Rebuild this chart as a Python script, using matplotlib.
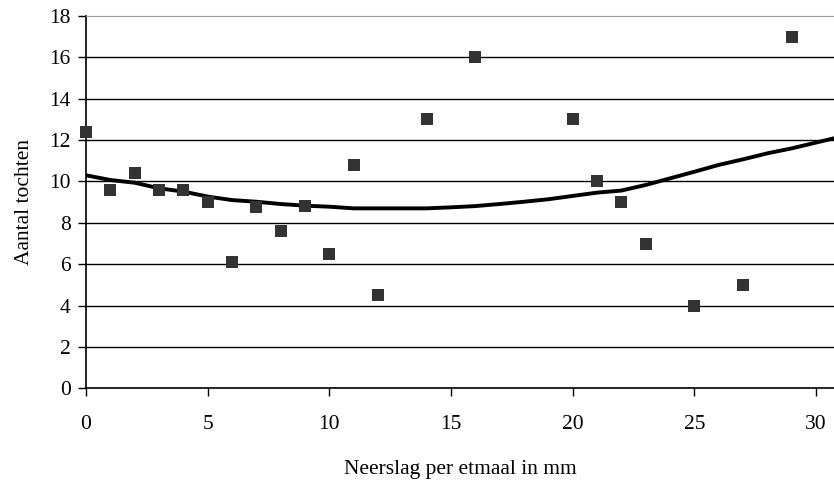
import matplotlib
matplotlib.use("Agg")
import matplotlib.pyplot as plt

# measured points
neerslag = [0, 1, 2, 3, 4, 5, 6, 7, 8, 9, 10, 11, 12, 14, 16, 20, 21, 22, 23, 25, 27, 29, 31]
tochten = [12.4, 9.6, 10.4, 9.6, 9.6, 9.0, 6.1, 8.75, 7.6, 8.8, 6.5, 10.8, 4.5,
           13, 16, 13, 10, 9, 7, 4, 5, 17, 14]

# trend line
trend_x = [0, 1, 2, 3, 4, 5, 6, 7, 8, 9, 10, 11, 12, 13, 14, 15, 16, 17, 18, 19, 20,
           21, 22, 23, 24, 25, 26, 27, 28, 29, 30, 30.75]
trend_y = [10.3, 10.07, 9.94, 9.67, 9.51, 9.27, 9.1, 9.02, 8.91, 8.83, 8.78, 8.7, 8.7,
           8.7, 8.7, 8.75, 8.81, 8.91, 9.02, 9.14, 9.3, 9.46, 9.56, 9.83, 10.15, 10.47,
           10.8, 11.07, 11.36, 11.6, 11.88, 12.09]

plt.rcParams['font.family'] = ['Liberation Serif', 'DejaVu Serif']

fig = plt.figure(figsize=(8.34, 4.8), dpi=100)
ax = fig.add_axes([86 / 834, 1 - 388.3 / 480, 1 - 86 / 834, (388.3 - 16) / 480])

# gridlines
for yv in range(2, 18, 2):
    ax.axhline(yv, color='black', lw=1.0, zorder=1)

ax.plot(trend_x, trend_y, color='black', lw=2.8, zorder=3)
ax.scatter(neerslag, tochten, marker='s', s=80, color='#333333', zorder=4,
           linewidths=0, clip_on=False)

ax.set_xlim(0, 30.74)
ax.set_ylim(0, 18)
ax.set_xticks(range(0, 31, 5))
ax.set_yticks(range(0, 19, 2))

ax.spines['right'].set_visible(False)
ax.spines['top'].set_color('#999999')
ax.spines['left'].set_color('black')
ax.spines['bottom'].set_color('black')
ax.spines['left'].set_linewidth(1.2)
ax.spines['bottom'].set_linewidth(1.2)

ax.tick_params(axis='both', direction='out', length=6, width=1, labelsize=15.5, colors='black')
ax.tick_params(axis='x', pad=13)
ax.tick_params(axis='y', pad=5)

ax.set_xlabel('Neerslag per etmaal in mm', fontsize=15.5, labelpad=19)
ax.set_ylabel('Aantal tochten', fontsize=15.5, labelpad=11)

fig.savefig('out.png', dpi=100)
